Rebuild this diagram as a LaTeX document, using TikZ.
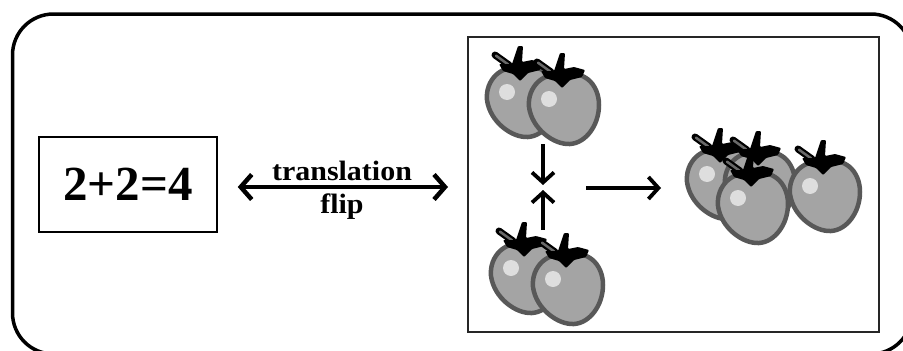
\documentclass[tikz,border=0pt]{standalone}
\usepackage{fontspec}
\setmainfont{Liberation Serif}
\usetikzlibrary{arrows.meta}

\definecolor{tomfill}{RGB}{164,164,164}
\definecolor{tomline}{RGB}{88,88,88}
\definecolor{tomshine}{RGB}{222,222,222}
\definecolor{stemgray}{RGB}{105,105,105}

\tikzset{
  % a single tomato: body, highlight, stalk and calyx
  tomato/.pic={
    \draw[line width=4.5pt, tomline, fill=tomfill]
      (0,-31) .. controls (18,-38) and (35,-24) .. (35,-2)
              .. controls (35,18) and (22,36) .. (6,37)
              .. controls (-10,38) and (-32,22) .. (-35,0)
              .. controls (-37,-20) and (-20,-37) .. (0,-31) -- cycle;
    \fill[tomshine] (-15,-8) circle (8);
    \draw[line width=7pt, black, line cap=round] (-27,-45) -- (-13,-35);
    \draw[line width=2.5pt, stemgray, line cap=round] (-26,-44.3) -- (-14,-35.7);
    \fill[black, rounded corners=1pt]
      (-23,-36) -- (-10,-36) -- (-4,-54) -- (1,-54) -- (0,-38) -- (10,-40)
      -- (21,-37) -- (18,-30) -- (6,-27) -- (-2,-19) -- (-9,-26) -- (-19,-29) -- cycle;
  },
  eqbox/.style={draw, line width=1.5pt, minimum width=178pt, minimum height=95pt,
    inner sep=0pt, font=\fontsize{49}{51}\selectfont\bfseries},
  setbox/.style={draw=black!85, line width=2pt, minimum width=411pt,
    minimum height=295pt, inner sep=0pt},
  lbl/.style={inner sep=0pt, font=\fontsize{28}{30}\selectfont\bfseries},
  bigarrow/.style={line width=4.5pt, {Straight Barb[length=11pt,width=25pt]}-{Straight Barb[length=11pt,width=25pt]}},
  smallarrow/.style={line width=3.8pt, -{Straight Barb[length=10pt,width=22pt]}},
}

\begin{document}
\begin{tikzpicture}[x=1pt, y=-1pt]
  \clip (0,0) rectangle (903,351);
  \fill[white] (0,0) rectangle (903,351);

  % outer rounded frame
  \draw[line width=3.5pt, rounded corners=41pt] (12.5,14) rectangle (912,354);

  % equation box and tomato box
  \node[eqbox] (eq) at (128,184.5) {2+2=4};
  \node[setbox] (set) at (673.5,184.5) {};

  % double arrow with its labels
  \draw[bigarrow, shorten <=20pt, shorten >=19pt]
    ([yshift=-2.5pt]eq.east) -- ([yshift=-2.5pt]set.west);
  \node[lbl, anchor=base] (tr) at (342,180) {\scalebox{1.07}[1]{translation}};
  \node[lbl, anchor=base] (fl) at (342,213) {\scalebox{1.07}[1]{flip}};

  % two pairs of tomatoes
  \pic at (522,100) {tomato};
  \pic at (564,107) {tomato};
  \pic at (526,276) {tomato};
  \pic at (568,287) {tomato};

  % four tomatoes
  \pic at (722,182) {tomato};
  \pic at (760,185) {tomato};
  \pic at (753,206) {tomato};
  \pic at (825,194) {tomato};

  % arrows joining the pairs and leading to the result
  \coordinate (dA) at (543,144);
  \coordinate (dB) at (543,185);
  \coordinate (uA) at (543,230);
  \coordinate (uB) at (543,190);
  \coordinate (rA) at (586,188);
  \coordinate (rB) at (661,188);
  \draw[smallarrow] (dA) -- (dB);
  \draw[smallarrow] (uA) -- (uB);
  \draw[smallarrow] (rA) -- (rB);
\end{tikzpicture}
\end{document}
